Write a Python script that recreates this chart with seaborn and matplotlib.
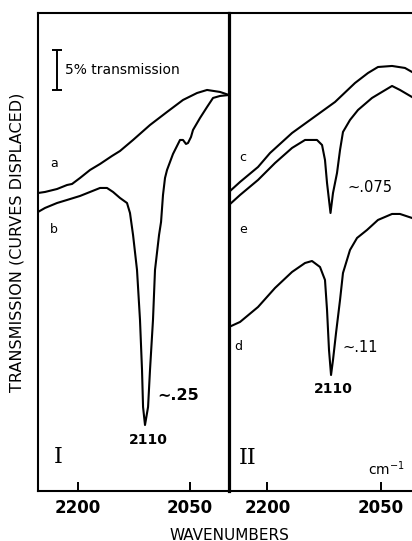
import matplotlib
matplotlib.use("Agg")
import matplotlib.pyplot as plt
import seaborn as sns
import pandas as pd

# ---------------- data (wavenumber in cm-1, transmission in %, curves displaced) ----
# Panel I
wn_a = [2253.6, 2244.2, 2228.1, 2214.7, 2208.0, 2197.3, 2183.9, 2170.5, 2154.5,
        2143.8, 2126.3, 2103.6, 2080.8, 2059.4, 2040.6, 2027.2, 2009.8, 1997.8]
t_a = [37.25, 37.38, 37.75, 38.25, 38.38, 39.13, 40.13, 40.88, 41.88,
       42.5, 43.88, 45.75, 47.38, 48.88, 49.75, 50.13, 49.88, 49.5]

wn_b = [2253.6, 2244.2, 2228.1, 2214.7, 2197.3, 2183.9, 2170.5, 2161.2, 2153.1,
        2143.8, 2134.4, 2130.4, 2126.3, 2121.0, 2117.0, 2114.3, 2112.9, 2110.3,
        2106.2, 2103.6, 2099.6, 2096.9, 2091.5, 2088.8, 2086.2, 2083.5, 2080.8,
        2072.8, 2063.4, 2059.4, 2055.4, 2052.7, 2048.7, 2046.0, 2036.6, 2027.2,
        2019.2, 2009.8, 1997.8]
t_b = [34.88, 35.38, 36.0, 36.38, 36.88, 37.38, 37.88, 37.88, 37.38,
       36.63, 36.0, 34.75, 32.0, 27.63, 21.38, 15.13, 10.5, 8.25,
       10.5, 15.13, 21.38, 27.63, 32.0, 33.63, 37.0, 39.13, 40.13,
       42.13, 43.88, 43.88, 43.38, 43.5, 44.25, 45.13, 46.63, 48.0,
       49.13, 49.38, 49.5]

# Panel II
wn_c = [2250.7, 2236.1, 2212.3, 2196.4, 2167.3, 2134.3, 2110.4, 2084.0, 2066.8,
        2053.6, 2035.0, 2017.9, 2008.6, 1998.0]
t_c = [37.38, 38.63, 40.5, 42.25, 44.75, 47.0, 48.63, 51.0, 52.25,
       53.0, 53.13, 52.88, 52.38, 51.8]

wn_e = [2250.7, 2236.1, 2212.3, 2189.8, 2167.3, 2150.1, 2134.3, 2127.6, 2123.7,
        2121.0, 2116.4, 2113.1, 2107.8, 2103.8, 2099.9, 2090.6, 2080.0, 2061.5,
        2048.3, 2035.0, 2024.5, 2008.6, 1998.0]
t_e = [35.75, 37.0, 38.88, 41.0, 42.88, 43.88, 43.88, 43.25, 41.38,
       38.5, 34.75, 37.25, 39.75, 42.63, 44.88, 46.38, 47.63, 49.13,
       49.88, 50.63, 50.13, 49.25, 48.6]

wn_d = [2250.7, 2236.1, 2212.3, 2189.8, 2167.3, 2150.1, 2140.9, 2130.3, 2123.7,
        2121.0, 2118.4, 2115.7, 2113.1, 2109.1, 2103.8, 2099.9, 2090.6, 2081.3,
        2068.1, 2053.6, 2035.0, 2024.5, 2008.6, 1998.0]
t_d = [20.5, 21.13, 23.0, 25.38, 27.38, 28.5, 28.75, 28.0, 26.38,
       22.63, 17.63, 14.5, 16.38, 19.75, 23.88, 27.25, 30.13, 31.63,
       32.63, 33.88, 34.63, 34.63, 34.13, 33.6]

tick_values = [2200, 2050]
tick_labels = ["2200", "2050"]

frames = []
for panel, name, wn, t in [("I", "a", wn_a, t_a), ("I", "b", wn_b, t_b),
                           ("II", "c", wn_c, t_c), ("II", "e", wn_e, t_e),
                           ("II", "d", wn_d, t_d)]:
    frames.append(pd.DataFrame({"panel": panel, "curve": name, "wn": wn, "T": t}))
df = pd.concat(frames, ignore_index=True)

# ---------------- style ----------------
sns.set_theme(style="white")
plt.rcParams['font.family'] = ['DejaVu Sans']
plt.rcParams['text.color'] = 'black'
plt.rcParams['xtick.color'] = 'black'
plt.rcParams['xtick.labelcolor'] = 'black'

fig = plt.figure(figsize=(4.12, 5.41), dpi=100)
W, H = 412.0, 541.0
ax1 = fig.add_axes([38 / W, 50 / H, 191 / W, 478 / H])
ax2 = fig.add_axes([229 / W, 50 / H, 191 / W, 478 / H])

for ax, panel in [(ax1, "I"), (ax2, "II")]:
    sub = df[df.panel == panel]
    sns.lineplot(data=sub, x="wn", y="T", units="curve", estimator=None,
                 sort=False, color="black", linewidth=1.5, ax=ax, legend=False)
    ax.set_ylim(0, 59.75)
    ax.set_xticks(tick_values)
    ax.set_xticklabels(tick_labels)
    ax.set_yticks([])
    ax.set_xlabel("")
    ax.set_ylabel("")
    ax.tick_params(axis="x", direction="in", length=6.5, width=1.4, pad=6,
                   labelsize=12, colors="black", bottom=True, top=False)
    for lbl in ax.get_xticklabels():
        lbl.set_fontweight("bold")
        lbl.set_color("black")
    for s in ax.spines.values():
        s.set_color("black")
        s.set_linewidth(1.5)
    ax.patch.set_alpha(0)

ax1.set_xlim(2253.6, 1997.8)
ax2.set_xlim(2250.7, 1998.0)
ax1.spines["right"].set_linewidth(2.3)
ax2.spines["left"].set_visible(False)
ax2.spines["right"].set_visible(False)

# scale bar
ax1.errorbar([2228.1], [52.63], yerr=[2.5], color="black", capsize=3.8,
             elinewidth=1.4, capthick=1.4, fmt="none")
ax1.text(2217.4, 52.63, "5% transmission", fontsize=10, va="center", ha="left",
         color="black")

# curve labels
for ax, x, y, s in [(ax1, 2232.1, 41.0, "a"), (ax1, 2232.1, 32.63, "b"),
                    (ax2, 2232.1, 41.63, "c"), (ax2, 2232.1, 32.75, "e"),
                    (ax2, 2238.8, 18.0, "d")]:
    ax.text(x, y, s, fontsize=9, ha="center", va="center", color="black")

# peak annotations
ax1.text(2094.2, 12.0, "∼.25", fontsize=11.5, fontweight="bold", ha="left",
         va="center", color="black")
ax1.text(2106.2, 6.38, "2110", fontsize=10, fontweight="bold", ha="center",
         va="center", color="black")
ax2.text(2094.6, 37.88, "∼.075", fontsize=10.5, ha="left", va="center", color="black")
ax2.text(2101.2, 18.0, "∼.11", fontsize=10.5, ha="left", va="center", color="black")
ax2.text(2113.1, 12.75, "2110", fontsize=10, fontweight="bold", ha="center",
         va="center", color="black")

# panel numerals
ax1.text(2226.8, 4.25, "I", fontsize=16, family="DejaVu Serif", ha="center",
         va="center", color="black")
ax2.text(2225.5, 4.13, "II", fontsize=16, family="DejaVu Serif", ha="center",
         va="center", color="black")
ax2.text(2066.8, 2.8, "cm$^{-1}$", fontsize=10, ha="left", va="center", color="black")

# axis titles
fig.text(17 / W, 1 - 242 / H, "TRANSMISSION (CURVES DISPLACED)", rotation=90,
         fontsize=11.5, ha="center", va="center", color="black")
fig.text(229 / W, 1 - 535 / H, "WAVENUMBERS", fontsize=11, ha="center",
         va="center", color="black")

fig.savefig("out.png", dpi=100, facecolor="white")
